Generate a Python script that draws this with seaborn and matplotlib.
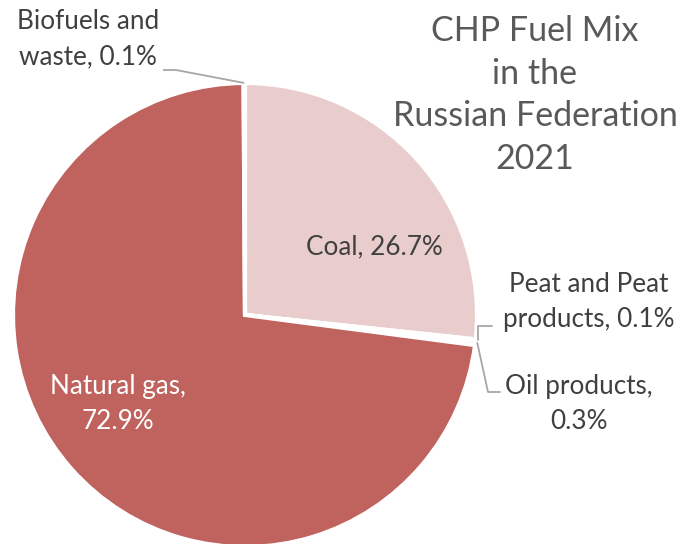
import numpy as np
import seaborn as sns
import matplotlib.pyplot as plt

# data
fuels = ["Coal", "Peat and Peat\nproducts", "Oil products", "Natural gas", "Biofuels and\nwaste"]
shares = [26.7, 0.1, 0.3, 72.9, 0.1]
colors = ["#E8CDCC", "#D9A6A3", "#CF8A86", "#C0625D", "#D49691"]
title = "CHP Fuel Mix\nin the\nRussian Federation\n2021"

sns.set_theme(style="white")
plt.rcParams['font.family'] = ['Lato', 'DejaVu Sans']

W, H = 681, 544
fig = plt.figure(figsize=(W / 100, H / 100), dpi=100)
ax = fig.add_axes([0, 0, 1, 1])

cx, cy, r = 245, H - 315, 232
wedges, _ = ax.pie(shares, colors=colors, startangle=90, counterclock=False,
                   center=(cx, cy), radius=r, frame=True,
                   wedgeprops=dict(edgecolor="white", linewidth=3))
ax.set_xlim(0, W)
ax.set_ylim(0, H)
ax.set_aspect("equal")
ax.axis("off")

txt = "#404040"
lab = 18.8
ls = 1.5
line_c = "#A6A6A6"


def edge_point(w, frac=1.0):
    t = np.deg2rad((w.theta1 + w.theta2) / 2)
    return cx + r * frac * np.cos(t), cy + r * frac * np.sin(t)


# inside labels
ax.text(374, H - 247, f"Coal, {shares[0]}%", ha="center", va="center", fontsize=lab, color=txt)
ax.text(118, H - 404, f"Natural gas,\n{shares[3]}%", ha="center", va="center",
        fontsize=lab, color="white", linespacing=ls)

# outside labels with leaders
x0, y0 = edge_point(wedges[4])
ax.plot([163, 176, x0], [H - 70, H - 70, y0], color=line_c, lw=1.3, solid_capstyle="butt")
ax.text(88, H - 39, "Biofuels and\nwaste, 0.1%", ha="center", va="center",
        fontsize=lab, color=txt, linespacing=ls)

x1, y1 = edge_point(wedges[1])
ax.plot([x1 + 2, x1 + 2, 492], [y1, H - 326, H - 326], color=line_c, lw=1.3)
ax.text(589, H - 302, "Peat and Peat\nproducts, 0.1%", ha="center", va="center",
        fontsize=lab, color=txt, linespacing=ls)

x2, y2 = edge_point(wedges[2])
ax.plot([x2 + 2, 488, 500], [y2, H - 392, H - 392], color=line_c, lw=1.3)
ax.text(579, H - 404, "Oil products,\n0.3%", ha="center", va="center",
        fontsize=lab, color=txt, linespacing=ls)

ax.text(535, H - 95, title, ha="center", va="center", fontsize=24.5,
        color="#595959", linespacing=1.42)

fig.savefig("out.png", dpi=100)
